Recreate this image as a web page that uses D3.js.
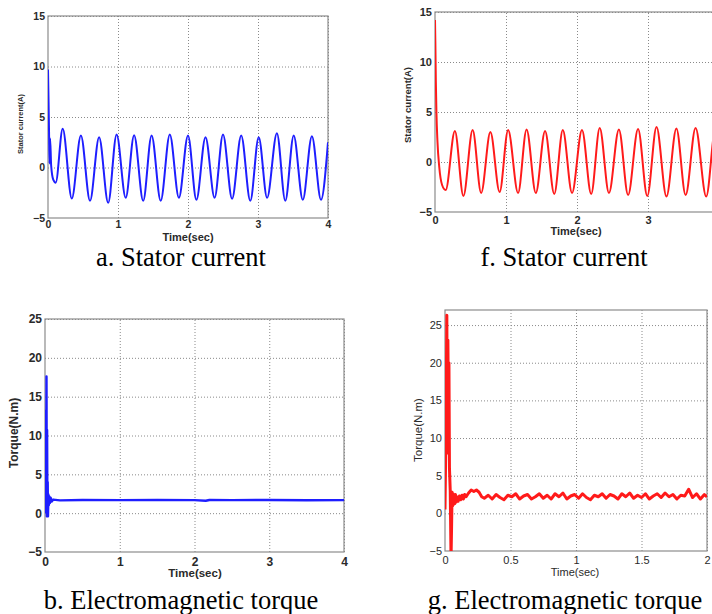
<!DOCTYPE html>
<html>
<head>
<meta charset="utf-8">
<script src="https://cdn.jsdelivr.net/npm/d3@7"></script>
<style>
  body { margin: 0; background: #fff; }
  svg { display: block; }
</style>
</head>
<body>
<svg id="demo" width="712" height="614"></svg>
<script>
// tick values
const timeTicks = [0, 1, 2, 3, 4];
const timeTicksCut = [0, 1, 2, 3];      // panel f is cropped before t = 4
const timeTicksHalf = [0, 0.5, 1, 1.5, 2];
const currentTicks = [-5, 0, 5, 10, 15];
const torqueTicks = [-5, 0, 5, 10, 15, 20, 25];

// a. stator current (blue), start spike then peaks / troughs
const timeA = [0, 0.008, 0.015, 0.022, 0.03, 0.045, 0.075, 0.11,
  0.21, 0.34, 0.47, 0.60, 0.73, 0.86, 0.98, 1.11, 1.23, 1.36, 1.48, 1.61, 1.74, 1.87,
  2.00, 2.12, 2.25, 2.38, 2.50, 2.63, 2.76, 2.89, 3.01, 3.13, 3.27, 3.39, 3.51, 3.64,
  3.77, 3.90, 4.00];
const currentA = [9.7, 6.5, 3.5, 0.4, 2.9, 0.2, -1.2, -1.5,
  3.83, -3.07, 3.17, -3.3, 3.0, -3.5, 3.27, -3.0, 3.2, -3.3, 3.17, -3.3, 3.27, -3.0,
  3.17, -3.2, 3.0, -3.0, 3.27, -3.1, 3.17, -3.3, 3.0, -3.0, 3.4, -3.3, 3.17, -3.2,
  3.1, -3.2, 2.5];

// f. stator current (red)
const timeF = [0, 0.005, 0.012, 0.02, 0.035, 0.06, 0.1, 0.15,
  0.28, 0.40, 0.53, 0.65, 0.78, 0.91, 1.03, 1.17, 1.29, 1.42, 1.55, 1.68, 1.80, 1.93,
  2.07, 2.20, 2.32, 2.45, 2.59, 2.72, 2.86, 2.99, 3.12, 3.26, 3.40, 3.53, 3.67, 3.82,
  3.95, 4.00];
const currentF = [14.2, 12, 8, 5, 2, -0.5, -2.3, -2.8,
  3.1, -3.4, 3.2, -3.1, 3.0, -3.0, 3.2, -3.1, 3.25, -3.1, 3.1, -3.2, 3.2, -3.1,
  3.2, -3.2, 3.4, -3.1, 3.25, -3.3, 3.3, -3.4, 3.5, -3.45, 3.35, -3.3, 3.4, -3.45,
  3.3, 2.5];

// b. electromagnetic torque (blue)
const timeB = [0, 0.004, 0.008, 0.012, 0.016, 0.02, 0.024, 0.028, 0.032, 0.036, 0.04,
  0.045, 0.05, 0.055, 0.065, 0.075, 0.09, 0.11, 0.2, 0.5, 1.0, 1.5, 2.0, 2.15, 2.2,
  2.5, 3.0, 3.5, 4.0];
const torqueB = [0, 6.4, 0.5, 13.2, 1.5, 17.6, -0.4, 10.7, 0.3, 4, -0.4,
  2.4, 1.0, 2.2, 1.3, 2.0, 1.5, 1.75, 1.65, 1.7, 1.68, 1.7, 1.68, 1.6, 1.7,
  1.68, 1.7, 1.66, 1.68];

// g. electromagnetic torque (red)
const timeG = [0, 0.008, 0.014, 0.018, 0.022, 0.026, 0.03, 0.034, 0.04, 0.046, 0.05,
  0.054, 0.058, 0.062, 0.066, 0.07, 0.075, 0.08, 0.085, 0.09, 0.1, 0.11, 0.12, 0.13,
  0.14, 0.15, 0.16, 0.18, 0.2, 0.22, 0.24, 0.26, 0.28,
  0.30, 0.33, 0.36, 0.39, 0.42, 0.45, 0.48, 0.51, 0.54, 0.57, 0.60, 0.63, 0.66, 0.69,
  0.72, 0.75, 0.78, 0.81, 0.84, 0.87, 0.90, 0.93, 0.96, 0.99, 1.02, 1.05, 1.08, 1.11,
  1.14, 1.17, 1.20, 1.23, 1.26, 1.29, 1.32, 1.35, 1.38, 1.41, 1.44, 1.47, 1.50, 1.53,
  1.56, 1.59, 1.62, 1.65, 1.68, 1.71, 1.74, 1.77, 1.80, 1.83, 1.86, 1.89, 1.92, 1.95,
  1.98, 2.00];
const torqueG = [0.5, 12, 26.3, 8, 23, 14, 20, 6, 3, -6, -2,
  2.8, 1, 2.6, 1.2, 2.4, 1.3, 2.5, 1.5, 2.2, 1.6, 2.3, 1.8, 2.4,
  1.9, 2.5, 2.2, 2.7, 3.1, 2.9, 3.1, 2.8, 2.2,
  2.0, 2.4, 1.9, 2.5, 2.1, 1.8, 2.4, 2.2, 2.6, 1.9, 2.3, 2.5, 1.9, 2.2,
  2.6, 2.0, 2.4, 1.9, 2.6, 2.2, 2.7, 1.9, 2.3, 2.5, 2.0, 2.6, 2.1, 1.8,
  2.4, 2.2, 2.6, 2.0, 2.5, 2.3, 1.9, 2.6, 2.2, 2.7, 2.0, 2.4, 2.1, 2.6,
  1.9, 2.3, 2.6, 2.1, 2.7, 2.2, 2.5, 1.9, 2.4, 2.3, 3.2, 2.1, 2.6, 1.9,
  2.5, 2.2];

const captions = ["a. Stator current", "f. Stator current",
  "b. Electromagnetic torque", "g. Electromagnetic torque"];

var svg = d3.select("#demo");
var sans = "'Liberation Sans', Arial, sans-serif";

function drawPanel(p) {
  var x = d3.scaleLinear().domain(p.xDomain).range([p.left, p.right]);
  var y = d3.scaleLinear().domain(p.yDomain).range([p.bottom, p.top]);
  var g = svg.append("g");

  // dotted grid
  g.append("g")
    .attr("transform", `translate(0,${p.bottom})`)
    .call(d3.axisBottom(x).tickValues(p.xTicks.slice(1)).tickSize(-(p.bottom - p.top)).tickFormat(""))
    .call(s => s.select(".domain").remove())
    .selectAll("line").attr("stroke", "#8a8a8a").attr("stroke-dasharray", "1,2");
  g.append("g")
    .attr("transform", `translate(${p.left},0)`)
    .call(d3.axisLeft(y).tickValues(p.yTicks.slice(1)).tickSize(-(p.right - p.left)).tickFormat(""))
    .call(s => s.select(".domain").remove())
    .selectAll("line").attr("stroke", "#8a8a8a").attr("stroke-dasharray", "1,2");

  // box
  g.append("rect")
    .attr("x", p.left).attr("y", p.top)
    .attr("width", p.right - p.left).attr("height", p.bottom - p.top)
    .attr("fill", "none").attr("stroke", "#8c8c8c").attr("stroke-width", 1.2);

  // clipped line
  svg.append("clipPath").attr("id", "clip-" + p.id)
    .append("rect")
    .attr("x", p.left).attr("y", p.top)
    .attr("width", p.right - p.left).attr("height", p.bottom - p.top);

  var line = d3.line()
    .x(d => x(d[0]))
    .y(d => y(d[1]))
    .curve(p.curve);

  g.append("path")
    .datum(d3.zip(p.t, p.v))
    .attr("clip-path", `url(#clip-${p.id})`)
    .attr("d", line)
    .attr("fill", "none")
    .attr("stroke", p.color)
    .attr("stroke-width", p.width)
    .attr("stroke-linejoin", "round");

  // tick labels
  var yAx = g.append("g")
    .attr("transform", `translate(${p.left},0)`)
    .call(d3.axisLeft(y).tickValues(p.yTicks).tickSize(0).tickPadding(3));
  var xAx = g.append("g")
    .attr("transform", `translate(0,${p.bottom})`)
    .call(d3.axisBottom(x).tickValues(p.xLabels).tickSize(0).tickPadding(p.xPad).tickFormat(d3.format("")));
  [yAx, xAx].forEach(ax => {
    ax.select(".domain").remove();
    ax.attr("font-family", null).attr("font-size", null);
    ax.selectAll("text")
      .attr("font-family", sans)
      .attr("font-size", p.tickSize)
      .attr("font-weight", p.weight)
      .attr("fill", "#2a2a2a");
  });

  // axis titles
  g.append("text")
    .attr("x", p.xLab[0]).attr("y", p.xLab[1])
    .attr("text-anchor", "middle")
    .attr("dominant-baseline", "middle")
    .attr("font-family", sans)
    .attr("font-size", p.labSize)
    .attr("font-weight", p.weight)
    .attr("fill", "#2a2a2a")
    .text("Time(sec)");
  g.append("text")
    .attr("transform", `translate(${p.yLab[0]},${p.yLab[1]}) rotate(-90)`)
    .attr("text-anchor", "middle")
    .attr("dominant-baseline", "middle")
    .attr("font-family", sans)
    .attr("font-size", p.yLabSize)
    .attr("font-weight", p.weight)
    .attr("fill", "#2a2a2a")
    .text(p.yTitle);

  // caption
  svg.append("text")
    .attr("x", p.cap[0]).attr("y", p.cap[1])
    .attr("text-anchor", "middle")
    .attr("font-family", "'Liberation Serif', 'Times New Roman', serif")
    .attr("font-size", 26.5)
    .attr("fill", "#000")
    .text(p.caption);
}

drawPanel({
  id: "a", t: timeA, v: currentA, color: "#1e1eff", width: 2, curve: d3.curveMonotoneX,
  xDomain: [0, 4], yDomain: [-5, 15], xTicks: timeTicks, xLabels: timeTicks, yTicks: currentTicks,
  left: 48, right: 328, top: 16, bottom: 218, xPad: 3,
  tickSize: 10.5, weight: "bold", labSize: 11, yLabSize: 7.5,
  xLab: [188, 238], yLab: [21, 124], yTitle: "Stator current(A)",
  cap: [181, 266], caption: captions[0]
});

drawPanel({
  id: "f", t: timeF, v: currentF, color: "#ff1a1a", width: 2, curve: d3.curveMonotoneX,
  xDomain: [0, 4], yDomain: [-5, 15], xTicks: timeTicks, xLabels: timeTicksCut, yTicks: currentTicks,
  left: 435, right: 719, top: 12, bottom: 212, xPad: 4,
  tickSize: 11, weight: "bold", labSize: 11, yLabSize: 9.5,
  xLab: [576, 232], yLab: [408, 105], yTitle: "Stator current(A)",
  cap: [564, 266], caption: captions[1]
});

drawPanel({
  id: "b", t: timeB, v: torqueB, color: "#1e1eff", width: 2.4, curve: d3.curveLinear,
  xDomain: [0, 4], yDomain: [-5, 25], xTicks: timeTicks, xLabels: timeTicks, yTicks: torqueTicks,
  left: 45, right: 344, top: 319, bottom: 552, xPad: 5,
  tickSize: 12, weight: "bold", labSize: 11.5, yLabSize: 12,
  xLab: [195, 574], yLab: [15, 433], yTitle: "Torque(N.m)",
  cap: [181, 609], caption: captions[2]
});

drawPanel({
  id: "g", t: timeG, v: torqueG, color: "#ff1a1a", width: 3, curve: d3.curveLinear,
  xDomain: [0, 2], yDomain: [-5, 27], xTicks: timeTicksHalf, xLabels: timeTicksHalf, yTicks: torqueTicks,
  left: 445, right: 707, top: 310, bottom: 551, xPad: 5,
  tickSize: 11, weight: "normal", labSize: 11, yLabSize: 11.5,
  xLab: [575, 573], yLab: [419, 430], yTitle: "Torque(N.m)",
  cap: [565, 609], caption: captions[3]
});
</script>
</body>
</html>
